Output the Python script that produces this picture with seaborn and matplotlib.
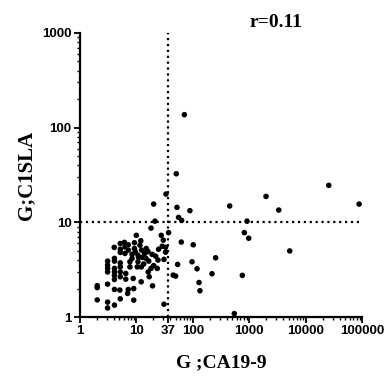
import numpy as np
import matplotlib
matplotlib.use("Agg")
import matplotlib.pyplot as plt
from matplotlib.ticker import FixedLocator, LogLocator, NullFormatter
import pandas as pd
import seaborn as sns

# CA19-9 (x) and C1SLA (y) values
ca199 = [71, 51, 33.5, 20.3, 52.5, 89, 56, 63.5, 21.4, 18.2, 37.3, 62.6, 102, 54, 97,
         45, 49.7, 119, 129, 134, 254, 219, 451, 545, 755, 820, 915, 980, 1985, 3335,
         5220, 25650, 88500, 30.9,
         27.7, 30, 33, 28.8, 33, 24.8, 30.9, 24.2, 22, 20.3, 19.4, 16.9, 18.2, 16, 19.1, 23.5,
         2.03, 2.03, 2.03,
         3.1, 3.1, 3.1, 3.1, 3.1, 3.1, 3.1,
         4.06, 4.1, 4.1, 4.1, 4.1, 4.1, 4.1, 4.1, 4.1,
         5.2, 5.2, 5.2, 5.2, 5.2, 5.2, 5.2, 5.1, 5.2,
         6.15, 6.3, 6.3, 6.5, 6.5, 7.0, 7.2,
         7.2, 7.2, 7.7, 7.7, 8.4, 8.4, 8.8, 9, 9,
         9.25, 9.25, 9.6, 10, 10.4, 10.7, 10.7, 11,
         11.6, 12, 12.4, 12.3, 12.8, 13.5, 12.2,
         14, 14.8, 15, 15.8, 16.6, 16.2]
c1sla = [137, 32.6, 19.9, 15.6, 14.4, 13.3, 11.3, 10.5, 10.3, 8.7, 7.8, 6.2, 5.8, 3.6, 3.84,
         2.78, 2.71, 3.24, 2.32, 1.90, 4.23, 2.87, 14.9, 1.09, 2.76, 7.8, 10.3, 6.8, 18.8, 13.5,
         5.0, 24.6, 15.6, 1.37,
         7.3, 6.5, 5.45, 5.6, 4.85, 5.2, 4.07, 4.0, 4.4, 3.5, 2.14, 2.67, 3.27, 4.94, 4.6, 3.27,
         2.15, 2.05, 1.52,
         3.9, 3.54, 3.27, 3.0, 2.23, 1.44, 1.25,
         5.45, 4.17, 3.9, 3.27, 3.0, 2.76, 2.5, 1.96, 1.34,
         5.98, 5.2, 4.82, 3.74, 3.39, 3.0, 2.67, 1.93, 1.56,
         6.15, 5.5, 4.7, 2.89, 2.52, 1.78, 1.96,
         5.8, 5.1, 3.84, 3.39, 4.6, 4.17, 2.56, 2.0, 1.51,
         6.1, 5.3, 4.9, 7.3, 3.39, 4.5, 3.84, 4.27,
         5.75, 6.4, 5.1, 3.39, 4.27, 3.64, 2.36,
         4.7, 4.17, 5.3, 4.9, 3.9, 3.0]

x_ticks = [1, 10, 37, 100, 1000, 10000, 100000]
x_labels = ["1", "10", "37", "100", "1000", "10000", "100000"]
y_ticks = [1, 10, 100, 1000]
y_labels = ["1", "10", "100", "1000"]
cut_x = 37
cut_y = 10
title = "r=0.11"

sns.set_theme(style="ticks")
plt.rcParams['font.family'] = ['Liberation Sans', 'DejaVu Sans']
plt.rcParams['text.color'] = 'black'
plt.rcParams['axes.labelcolor'] = 'black'

df = pd.DataFrame({"x": ca199, "y": c1sla})

fig = plt.figure(figsize=(3.84, 3.78), dpi=100)
ax = fig.add_axes([0.208, 0.161, 0.735, 0.752])

sns.scatterplot(data=df, x="x", y="y", ax=ax, color="black", s=16,
                edgecolor="none", linewidth=0, zorder=3)

ax.set_xscale("log")
ax.set_yscale("log")
ax.set_xlim(1, 100000)
ax.set_ylim(1, 1000)

ax.axvline(cut_x, color="black", ls=":", lw=1.6, zorder=2)
ax.axhline(cut_y, color="black", ls=":", lw=1.6, zorder=2)

ax.xaxis.set_major_locator(FixedLocator(x_ticks))
ax.set_xticklabels(x_labels, fontweight="bold")
ax.yaxis.set_major_locator(FixedLocator(y_ticks))
ax.set_yticklabels(y_labels, fontweight="bold")
ax.xaxis.set_minor_locator(LogLocator(base=10, subs=np.arange(2, 10)))
ax.yaxis.set_minor_locator(LogLocator(base=10, subs=np.arange(2, 10)))
ax.xaxis.set_minor_formatter(NullFormatter())
ax.yaxis.set_minor_formatter(NullFormatter())

for s in ["top", "right"]:
    ax.spines[s].set_visible(False)
for s in ["left", "bottom"]:
    ax.spines[s].set_linewidth(1.6)
    ax.spines[s].set_color("black")

ax.tick_params(which="major", length=4.5, width=1.3, pad=1.5, labelsize=9.5,
               colors="black", labelcolor="black")
ax.tick_params(which="minor", length=2.5, width=1.0, colors="black")

serif = ['Liberation Serif', 'DejaVu Serif']
ax.set_xlabel("G ;CA19-9", family=serif, fontweight="bold", fontsize=14, labelpad=12,
              color="black")
ax.set_ylabel("G;C1SLA", family=serif, fontweight="bold", fontsize=15, labelpad=4,
              color="black")
fig.text(0.718, 0.94, title, family=serif, fontweight="bold", fontsize=14,
         ha="center", va="center", color="black")

fig.savefig("out.png", dpi=100)
